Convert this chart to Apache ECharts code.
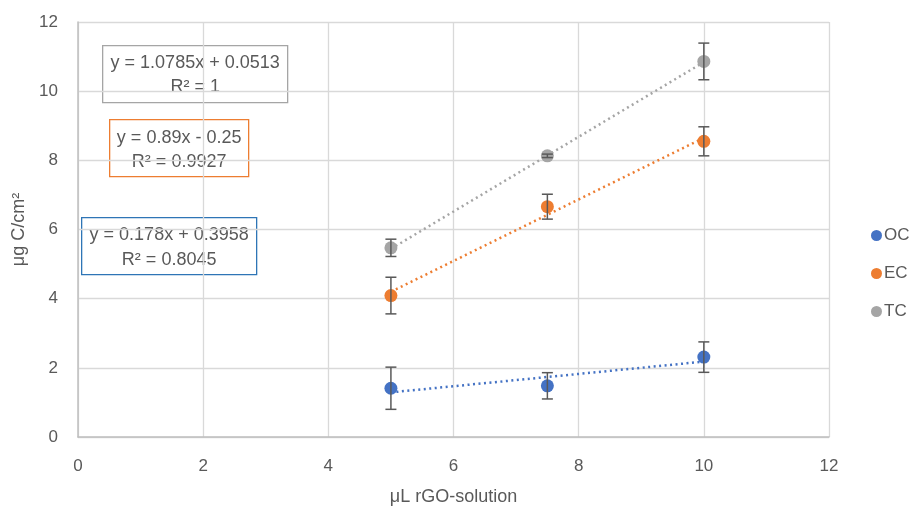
<!DOCTYPE html>
<html>
<head>
<meta charset="utf-8">
<script src="https://cdn.jsdelivr.net/npm/echarts@6/dist/echarts.min.js"></script>
<style>html,body{margin:0;padding:0;background:#fff}#c{width:919px;height:511px}</style>
</head>
<body>
<div id="c"></div>
<script>
// ---- data ----
const xValues = [5, 7.5, 10];
const seriesNames = ['OC', 'EC', 'TC'];
const ocValues = [1.41, 1.48, 2.31];
const ecValues = [4.09, 6.66, 8.55];
const tcValues = [5.47, 8.13, 10.86];
const ocErrors = [0.61, 0.38, 0.44];
const ecErrors = [0.53, 0.36, 0.42];
const tcErrors = [0.25, 0.05, 0.53];
// trendline endpoints at x = 5 and x = 10
const trendX = [5, 10];
const ocTrend = [1.29, 2.18];
const ecTrend = [4.20, 8.65];
const tcTrend = [5.44, 10.84];
const ocEquation = ['y = 0.178x + 0.3958', 'R² = 0.8045'];
const ecEquation = ['y = 0.89x - 0.25', 'R² = 0.9927'];
const tcEquation = ['y = 1.0785x + 0.0513', 'R² = 1'];
const xTicks = [0, 2, 4, 6, 8, 10, 12];
const yTicks = [0, 2, 4, 6, 8, 10, 12];

const colors = { OC: '#4472C4', EC: '#ED7D31', TC: '#A5A5A5' };
const values = { OC: ocValues, EC: ecValues, TC: tcValues };
const errors = { OC: ocErrors, EC: ecErrors, TC: tcErrors };
const trends = { OC: ocTrend, EC: ecTrend, TC: tcTrend };
const FONT = '"Liberation Sans", "Noto Sans", sans-serif';
const TXT = '#595959';
const FS = 17;
const TFS = 18;

const chart = echarts.init(document.getElementById('c'), null, { renderer: 'canvas' });

const series = [];
seriesNames.forEach(n => {
  series.push({
    name: n + ' trend', type: 'line', silent: true, symbol: 'none', z: 2,
    data: trendX.map((x, i) => [x, trends[n][i]]),
    lineStyle: { color: colors[n], width: 2.5, type: [2, 3.5] }
  });
});
seriesNames.forEach(n => {
  series.push({
    name: n, type: 'scatter', symbol: 'circle', symbolSize: 13, z: 3,
    itemStyle: { color: colors[n], opacity: 1 },
    data: xValues.map((x, i) => [x, values[n][i]])
  });
});
seriesNames.forEach(n => {
  series.push({
    name: n + ' err', type: 'custom', z: 4, silent: true,
    data: xValues.map((x, i) => [x, values[n][i] - errors[n][i], values[n][i] + errors[n][i]]),
    renderItem: function (params, api) {
      const lo = api.coord([api.value(0), api.value(1)]);
      const hi = api.coord([api.value(0), api.value(2)]);
      const w = 5.5;
      const st = { stroke: '#595959', lineWidth: 1.5 };
      return {
        type: 'group', children: [
          { type: 'line', shape: { x1: lo[0], y1: lo[1], x2: hi[0], y2: hi[1] }, style: st },
          { type: 'line', shape: { x1: lo[0] - w, y1: lo[1], x2: lo[0] + w, y2: lo[1] }, style: st },
          { type: 'line', shape: { x1: hi[0] - w, y1: hi[1], x2: hi[0] + w, y2: hi[1] }, style: st }
        ]
      };
    }
  });
});

function eqBox(lines, color, left, top, w, h, y1, y2) {
  return {
    type: 'group', left: left, top: top, z: 10,
    children: [
      { type: 'rect', shape: { x: 0, y: 0, width: w, height: h },
        style: { fill: 'transparent', stroke: color, lineWidth: 1.3 } },
      { type: 'text', x: w / 2, y: y1, style: { text: lines[0], font: '18px ' + FONT, fill: TXT, align: 'center', verticalAlign: 'middle' } },
      { type: 'text', x: w / 2, y: y2, style: { text: lines[1], font: '18px ' + FONT, fill: TXT, align: 'center', verticalAlign: 'middle' } }
    ]
  };
}

chart.setOption({
  animation: false,
  backgroundColor: '#fff',
  textStyle: { fontFamily: FONT },
  grid: { left: 78, right: 90, top: 22, bottom: 69, containLabel: false },
  legend: {
    orient: 'vertical', left: 866, top: 222, itemGap: 21,
    itemWidth: 11, itemHeight: 11, icon: 'circle',
    data: seriesNames,
    textStyle: { color: TXT, fontSize: FS, fontFamily: FONT, padding: [0, 0, 0, -3] }
  },
  xAxis: {
    type: 'value', min: 0, max: 12, interval: 2,
    name: 'μL rGO-solution', nameLocation: 'middle', nameGap: 51,
    nameTextStyle: { color: TXT, fontSize: TFS, fontFamily: FONT },
    axisLine: { show: true, lineStyle: { color: '#BFBFBF', width: 1.5 } },
    axisTick: { show: false },
    axisLabel: { color: TXT, fontSize: FS, margin: 21, fontFamily: FONT },
    splitLine: { show: true, lineStyle: { color: '#D9D9D9', width: 1.3 } }
  },
  yAxis: {
    type: 'value', min: 0, max: 12, interval: 2,
    name: 'μg C/cm²', nameLocation: 'middle', nameGap: 39,
    nameTextStyle: { color: TXT, fontSize: TFS, fontFamily: FONT },
    axisLine: { show: true, lineStyle: { color: '#BFBFBF', width: 1.5 } },
    axisTick: { show: false },
    axisLabel: { color: TXT, fontSize: FS, margin: 20, fontFamily: FONT },
    splitLine: { show: true, lineStyle: { color: '#D9D9D9', width: 1.3 } }
  },
  graphic: [
    eqBox(tcEquation, '#A5A5A5', 102, 45, 185, 57, 17, 41),
    eqBox(ecEquation, '#ED7D31', 109, 119, 139, 57, 18, 42),
    eqBox(ocEquation, '#2E75B6', 81, 217, 175, 57, 17, 42)
  ],
  series: series
});
</script>
</body>
</html>
